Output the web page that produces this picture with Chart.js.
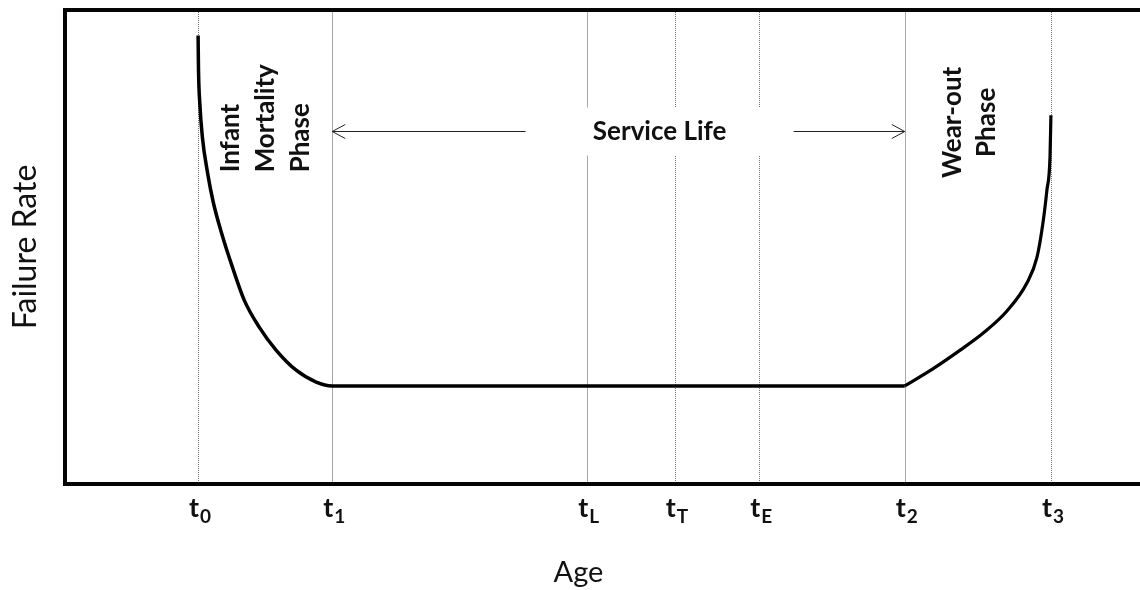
<!DOCTYPE html>
<html>
<head>
<meta charset="utf-8">
<title>Failure Rate vs Age</title>
<script src="https://cdn.jsdelivr.net/npm/chart.js"></script>
<style>
  html, body { margin: 0; padding: 0; background: #fff; }
  #wrap { width: 1140px; height: 590px; position: relative; }
</style>
</head>
<body>
<div id="wrap"><canvas id="bathtub"></canvas></div>
<script>
// infant mortality drop + flat service life
let earlyAge = [12.96, 13.0, 13.13, 13.38, 13.87, 14.42, 15.25, 16.31, 17.45, 18.91, 20.57, 22.51, 24.46, 26.02, 81.77];
let earlyRate = [94.6, 87.3, 80.2, 73.1, 65.8, 59.6, 52.9, 45.7, 38.8, 33.1, 28.2, 24.0, 21.5, 20.7, 20.7];

// wear-out rise
let lateAge = [81.77, 84.5, 87.13, 89.38, 91.72, 93.66, 94.64, 95.22, 95.61, 95.91, 96.0];
let lateRate = [20.7, 24.3, 28.2, 31.8, 36.5, 42.4, 47.8, 55.0, 62.0, 68.9, 77.8];

// marker ages along the axis
let tickAges = [12.96, 26.02, 50.8, 59.4, 67.6, 81.77, 96.0];
let tickSubs = ["0", "1", "L", "T", "E", "2", "3"];
let tickDotted = [true, false, false, true, true, false, true];

let infantLines = ["Infant", "Mortality", "Phase"];
let wearLines = ["Wear-out", "Phase"];

function toPoints(xs, ys) {
  return xs.map((x, i) => ({ x: x, y: ys[i] }));
}

function rotatedText(ctx, lines, px, py, align, gap) {
  ctx.save();
  ctx.translate(px, py);
  ctx.rotate(-Math.PI / 2);
  ctx.textAlign = align;
  ctx.textBaseline = "middle";
  lines.forEach((line, i) => ctx.fillText(line, 0, i * gap));
  ctx.restore();
}

function arrowHead(ctx, x, y, dir) {
  ctx.beginPath();
  ctx.moveTo(x + dir * 13, y - 7);
  ctx.lineTo(x, y);
  ctx.lineTo(x + dir * 13, y + 7);
  ctx.stroke();
}

const decorations = {
  id: "decorations",
  beforeDatasetsDraw(chart) {
    let ctx = chart.ctx;
    let area = chart.chartArea;
    let xs = chart.scales.x;
    let ys = chart.scales.y;
    ctx.save();

    // vertical marker lines
    tickAges.forEach((age, i) => {
      let px = Math.round(xs.getPixelForValue(age)) + 0.5;
      ctx.beginPath();
      ctx.lineWidth = 1;
      if (tickDotted[i]) {
        ctx.strokeStyle = "#707070";
        ctx.setLineDash([1, 1]);
      } else {
        ctx.strokeStyle = "#a8a8a8";
        ctx.setLineDash([]);
      }
      ctx.moveTo(px, area.top);
      ctx.lineTo(px, area.bottom);
      ctx.stroke();
    });
    ctx.setLineDash([]);

    // service life label with arrows
    let sx = xs.getPixelForValue(57.9);
    let sy = Math.round(ys.getPixelForValue(74.4)) + 0.5;
    ctx.fillStyle = "#fff";
    ctx.fillRect(sx - 134, sy - 24, 268, 48);
    ctx.fillStyle = "#111";
    ctx.font = "bold 26px Lato";
    ctx.textAlign = "center";
    ctx.textBaseline = "middle";
    ctx.fillText("Service Life", sx, sy);

    let left = xs.getPixelForValue(tickAges[1]);
    let right = xs.getPixelForValue(tickAges[5]);
    ctx.strokeStyle = "#222";
    ctx.lineWidth = 1;
    ctx.beginPath();
    ctx.moveTo(left, sy);
    ctx.lineTo(sx - 134, sy);
    ctx.moveTo(sx + 134, sy);
    ctx.lineTo(right, sy);
    ctx.stroke();
    arrowHead(ctx, left, sy, 1);
    arrowHead(ctx, right, sy, -1);

    // phase labels
    ctx.fillStyle = "#111";
    ctx.font = "bold 26px Lato";
    rotatedText(ctx, infantLines, xs.getPixelForValue(16.08), ys.getPixelForValue(65.75), "left", 35);
    rotatedText(ctx, wearLines, xs.getPixelForValue(86.45), ys.getPixelForValue(76.3), "center", 34);

    ctx.restore();
  },
  afterDraw(chart) {
    let ctx = chart.ctx;
    let area = chart.chartArea;
    let xs = chart.scales.x;
    ctx.save();

    // frame: top, left, bottom (right side runs off the page)
    ctx.strokeStyle = "#050505";
    ctx.lineWidth = 4;
    ctx.beginPath();
    ctx.moveTo(chart.width, area.top);
    ctx.lineTo(area.left, area.top);
    ctx.lineTo(area.left, area.bottom);
    ctx.lineTo(chart.width, area.bottom);
    ctx.stroke();

    // t labels with subscripts
    ctx.fillStyle = "#111";
    ctx.textAlign = "left";
    ctx.textBaseline = "alphabetic";
    tickAges.forEach((age, i) => {
      let px = xs.getPixelForValue(age);
      ctx.font = "bold 27px Lato";
      let wMain = ctx.measureText("t").width;
      ctx.font = "bold 19px Lato";
      let wSub = ctx.measureText(tickSubs[i]).width;
      let start = px - (wMain + wSub + 1) / 2 + 2;
      ctx.font = "bold 27px Lato";
      ctx.fillText("t", start, area.bottom + 33);
      ctx.font = "bold 19px Lato";
      ctx.fillText(tickSubs[i], start + wMain + 1, area.bottom + 39);
    });

    ctx.restore();
  }
};

const ctx = document.getElementById("bathtub");
new Chart(ctx, {
  type: "line",
  data: {
    datasets: [
      {
        label: "Failure rate",
        data: toPoints(earlyAge, earlyRate),
        borderColor: "#000",
        borderWidth: 3.5,
        pointRadius: 0,
        cubicInterpolationMode: "monotone",
        fill: false
      },
      {
        label: "Wear-out",
        data: toPoints(lateAge, lateRate),
        borderColor: "#000",
        borderWidth: 3.2,
        pointRadius: 0,
        cubicInterpolationMode: "monotone",
        fill: false
      }
    ]
  },
  options: {
    responsive: true,
    maintainAspectRatio: false,
    animation: false,
    layout: { padding: { top: 10, right: 48, left: 0, bottom: 0 } },
    plugins: {
      legend: { display: false },
      tooltip: { enabled: false }
    },
    scales: {
      x: {
        type: "linear",
        min: 0,
        max: 100,
        grid: { display: false, drawTicks: false },
        border: { display: false },
        ticks: { display: false },
        title: {
          display: true,
          text: "Age",
          color: "#111",
          font: { family: "Lato", size: 29 },
          padding: { top: 0, bottom: 0 }
        },
        afterFit: (scale) => { scale.height = 106; }
      },
      y: {
        min: 0,
        max: 100,
        grid: { display: false, drawTicks: false },
        border: { display: false },
        ticks: { display: false },
        title: {
          display: true,
          text: "Failure Rate",
          color: "#111",
          font: { family: "Lato", size: 32 },
          padding: { top: 6, bottom: 0 }
        },
        afterFit: (scale) => { scale.width = 65; }
      }
    }
  },
  plugins: [decorations]
});
</script>
</body>
</html>
